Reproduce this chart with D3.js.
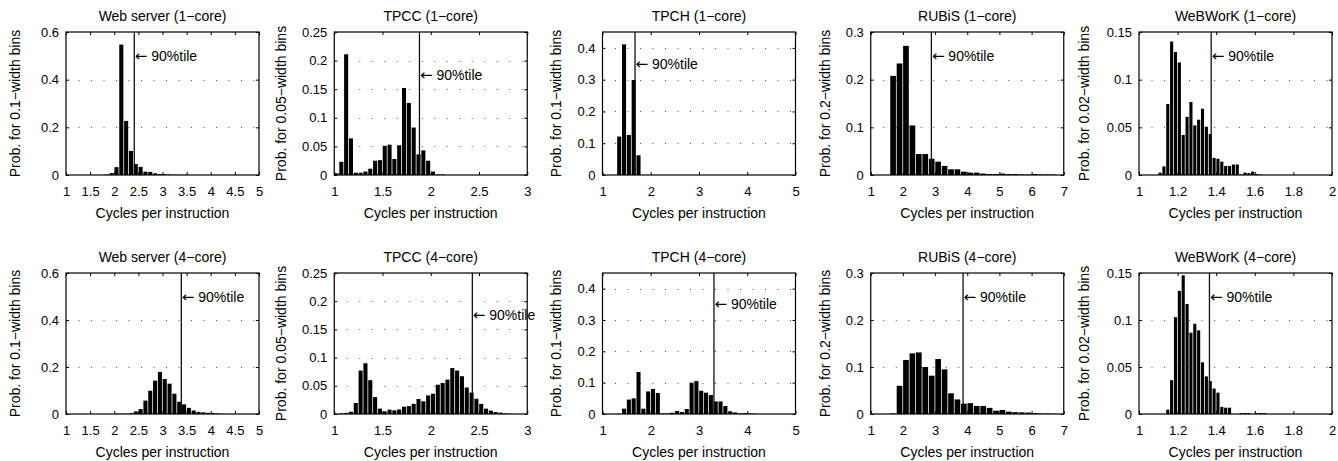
<!DOCTYPE html>
<html><head><meta charset="utf-8">
<script src="https://cdn.jsdelivr.net/npm/d3@7"></script>
<style>
body{margin:0;background:#fff}
svg{display:block}
text{font-family:"Liberation Sans",Arial,Helvetica,sans-serif;fill:#000}
</style>
</head><body><svg id="chart" width="1338" height="461"></svg>
<script>
// ---------- data ----------
const workloads = ["Web server", "TPCC", "TPCH", "RUBiS", "WeBWorK"];
const coreCounts = ["1\u2212core", "4\u2212core"];
const binWidths = [0.1, 0.05, 0.1, 0.2, 0.02];
const binWidthLabels = ["0.1", "0.05", "0.1", "0.2", "0.02"];
const xDomains = [[1, 5], [1, 3], [1, 5], [1, 7], [1, 2]];
const yMaxes = [0.6, 0.25, 0.45, 0.3, 0.15];
const xTicks = [[1, 1.5, 2, 2.5, 3, 3.5, 4, 4.5, 5], [1, 1.5, 2, 2.5, 3], [1, 2, 3, 4, 5], [1, 2, 3, 4, 5, 6, 7], [1, 1.2, 1.4, 1.6, 1.8, 2]];
const yTicks = [[0, 0.2, 0.4, 0.6], [0, 0.05, 0.1, 0.15, 0.2, 0.25], [0, 0.1, 0.2, 0.3, 0.4], [0, 0.1, 0.2, 0.3], [0, 0.05, 0.1, 0.15]];
const xLabel = "Cycles per instruction";
const pctArrow = "\u2190";
const pctLabel = " 90%tile";

const p90OneCore = [2.415, 1.883, 1.674, 2.885, 1.374];
const p90FourCore = [3.39, 2.431, 3.31, 3.87, 1.365];
const p90LabelY = [0.5, 0.175, 0.35, 0.25, 0.125];

const firstBinOneCore = [1.8, 1.0, 1.3, 1.6, 1.10];
const firstBinFourCore = [2.0, 1.05, 1.3, 1.6, 1.14];

const webOneCore = [0.002, 0.008, 0.033, 0.547, 0.227, 0.101, 0.046, 0.034, 0.014, 0.013, 0.007, 0.004, 0.003, 0.002, 0.001, 0.001, 0.001];
const tpccOneCore = [0.003, 0.023, 0.211, 0.064, 0.004, 0.004, 0.006, 0.011, 0.025, 0.026, 0.051, 0.053, 0.028, 0.052, 0.152, 0.126, 0.083, 0.036, 0.043, 0.025, 0.006, 0.001, 0.001];
const tpchOneCore = [0.121, 0.411, 0.126, 0.299, 0.062];
const rubisOneCore = [0.208, 0.234, 0.271, 0.104, 0.044, 0.044, 0.034, 0.028, 0.019, 0.012, 0.012, 0.007, 0.005, 0.005, 0.003, 0.002, 0.002, 0.003, 0.002, 0.002, 0.001, 0.001, 0.002, 0.001, 0.001, 0.001];
const webworkOneCore = [0.0025, 0.009, 0.0745, 0.140, 0.129, 0.118, 0.042, 0.061, 0.0766, 0.052, 0.058, 0.0695, 0.0506, 0.043, 0.018, 0.017, 0.014, 0.0095, 0.0095, 0.011, 0.011, 0.0005, 0.0025, 0.002, 0.0035, 0.001, 0.0005];

const webFourCore = [0.001, 0.001, 0.001, 0.003, 0.011, 0.021, 0.057, 0.099, 0.142, 0.179, 0.149, 0.129, 0.0865, 0.052, 0.041, 0.026, 0.015, 0.009, 0.007, 0.005, 0.004, 0.002, 0.001];
const tpccFourCore = [0.001, 0.002, 0.004, 0.0195, 0.077, 0.090, 0.060, 0.030, 0.0095, 0.0047, 0.0077, 0.0065, 0.008, 0.013, 0.014, 0.018, 0.0266, 0.0225, 0.033, 0.036, 0.052, 0.055, 0.061, 0.0815, 0.077, 0.067, 0.047, 0.038, 0.027, 0.018, 0.0095, 0.006, 0.0035, 0.0024, 0.001, 0.0005];
const tpchFourCore = [0.001, 0.017, 0.046, 0.050, 0.134, 0.017, 0.072, 0.080, 0.067, 0.002, 0.002, 0.004, 0.0096, 0.0064, 0.016, 0.100, 0.105, 0.074, 0.068, 0.0606, 0.040, 0.040, 0.0255, 0.0085, 0.005, 0.002, 0.003, 0.002, 0.001];
const rubisFourCore = [0.001, 0.060, 0.115, 0.129, 0.131, 0.100, 0.0815, 0.117, 0.095, 0.044, 0.031, 0.022, 0.023, 0.017, 0.017, 0.013, 0.007, 0.0085, 0.005, 0.004, 0.0035, 0.003, 0.002, 0.001, 0.001, 0.0005];
const webworkFourCore = [0.0046, 0.036, 0.103, 0.131, 0.1475, 0.117, 0.0865, 0.096, 0.089, 0.055, 0.040, 0.035, 0.027, 0.0227, 0.0075, 0.0067, 0.0067, 0, 0, 0.001, 0.001, 0.001, 0, 0.001, 0.001, 0.001];

const seriesByRow = [
  [webOneCore, tpccOneCore, tpchOneCore, rubisOneCore, webworkOneCore],
  [webFourCore, tpccFourCore, tpchFourCore, rubisFourCore, webworkFourCore]
];
const firstBinByRow = [firstBinOneCore, firstBinFourCore];
const p90ByRow = [p90OneCore, p90FourCore];

// ---------- layout ----------
const svg = d3.select("#chart");
svg.append("rect").attr("width", 1338).attr("height", 461).attr("fill", "#fff");
const plotLeft0 = 66, colStep = 268.25, plotW = 193;
const rowTop = [32, 273], rowH = [143, 141];
const yLabelGap = [26, 21, 21, 21, 23];
const fmt = d3.format("~g");
const FONT = '"Liberation Sans",Arial,Helvetica,sans-serif';

function styleAxis(g) {
  g.select(".domain").remove();
  g.selectAll(".tick line").attr("stroke", "#000").attr("stroke-width", 1);
  g.attr("font-family", FONT).attr("font-size", 13);
  g.selectAll("text").attr("fill", "#000");
}

for (let r = 0; r < 2; r++) {
  for (let c = 0; c < 5; c++) {
    const left = plotLeft0 + c * colStep;
    const top = rowTop[r], h = rowH[r], bottom = top + h;
    const x = d3.scaleLinear().domain(xDomains[c]).range([left, left + plotW]);
    const y = d3.scaleLinear().domain([0, yMaxes[c]]).range([bottom, top]);
    const g = svg.append("g");

    // dotted grid
    g.selectAll(".grid").data(yTicks[c].filter(v => v > 0 && v < yMaxes[c] - 1e-9)).enter()
      .append("line")
      .attr("x1", left).attr("x2", left + plotW)
      .attr("y1", d => Math.round(y(d)) + 0.5).attr("y2", d => Math.round(y(d)) + 0.5)
      .attr("stroke", "#555").attr("stroke-width", 1).attr("stroke-dasharray", "1,11.5");

    // bars
    const bw = binWidths[c];
    const start = firstBinByRow[r][c];
    const vals = seriesByRow[r][c];
    const barPx = x(xDomains[c][0] + bw) - x(xDomains[c][0]);
    g.selectAll(".bar").data(vals).enter().append("rect")
      .attr("x", (d, i) => x(+(start + i * bw).toFixed(4)) + 0.2)
      .attr("width", barPx - 0.75)
      .attr("y", d => y(d))
      .attr("height", d => y(0) - y(d))
      .attr("fill", "#000");

    // axes with inward ticks
    g.append("g").attr("transform", `translate(0,${bottom})`)
      .call(d3.axisBottom(x).tickValues(xTicks[c]).tickSize(-3).tickPadding(12).tickFormat(fmt))
      .call(styleAxis);
    g.append("g").attr("transform", `translate(0,${top})`)
      .call(d3.axisTop(x).tickValues(xTicks[c]).tickSize(-3).tickFormat(""))
      .call(styleAxis);
    const yAx = g.append("g").attr("transform", `translate(${left},0)`)
      .call(d3.axisLeft(y).tickValues(yTicks[c]).tickSize(-3).tickPadding(7).tickFormat(fmt))
      .call(styleAxis);
    g.append("g").attr("transform", `translate(${left + plotW},0)`)
      .call(d3.axisRight(y).tickValues(yTicks[c]).tickSize(-3).tickFormat(""))
      .call(styleAxis);

    // box
    g.append("rect").attr("x", left).attr("y", top).attr("width", plotW).attr("height", h)
      .attr("fill", "none").attr("stroke", "#000").attr("stroke-width", 1.2);

    // 90th percentile line + label
    const p = p90ByRow[r][c];
    g.append("line").attr("x1", x(p)).attr("x2", x(p)).attr("y1", bottom).attr("y2", top)
      .attr("stroke", "#111").attr("stroke-width", 1.3);
    const t = g.append("text").attr("x", x(p) + 0.5).attr("y", y(p90LabelY[c]))
      .attr("dominant-baseline", "central").attr("font-size", 14);
    t.append("tspan").attr("font-family", '"DejaVu Sans",sans-serif').attr("font-size", 15).text(pctArrow);
    t.append("tspan").text(pctLabel);

    // title
    g.append("text").attr("x", left + plotW / 2).attr("y", top - 11)
      .attr("text-anchor", "middle").attr("font-size", 14)
      .text(`${workloads[c]} (${coreCounts[r]})`);

    // x label
    g.append("text").attr("x", left + plotW / 2).attr("y", bottom + 43)
      .attr("text-anchor", "middle").attr("font-size", 14).text(xLabel);

    // y label
    let maxW = 0;
    yAx.selectAll("text").each(function () { maxW = Math.max(maxW, this.getComputedTextLength()); });
    const lx = left - 7 - maxW - yLabelGap[c];
    g.append("text").attr("transform", `translate(${lx},${top + h / 2}) rotate(-90)`)
      .attr("text-anchor", "middle").attr("dominant-baseline", "central").attr("font-size", 14)
      .text(`Prob. for ${binWidthLabels[c]}\u2212width bins`);
  }
}
</script>
</body></html>
